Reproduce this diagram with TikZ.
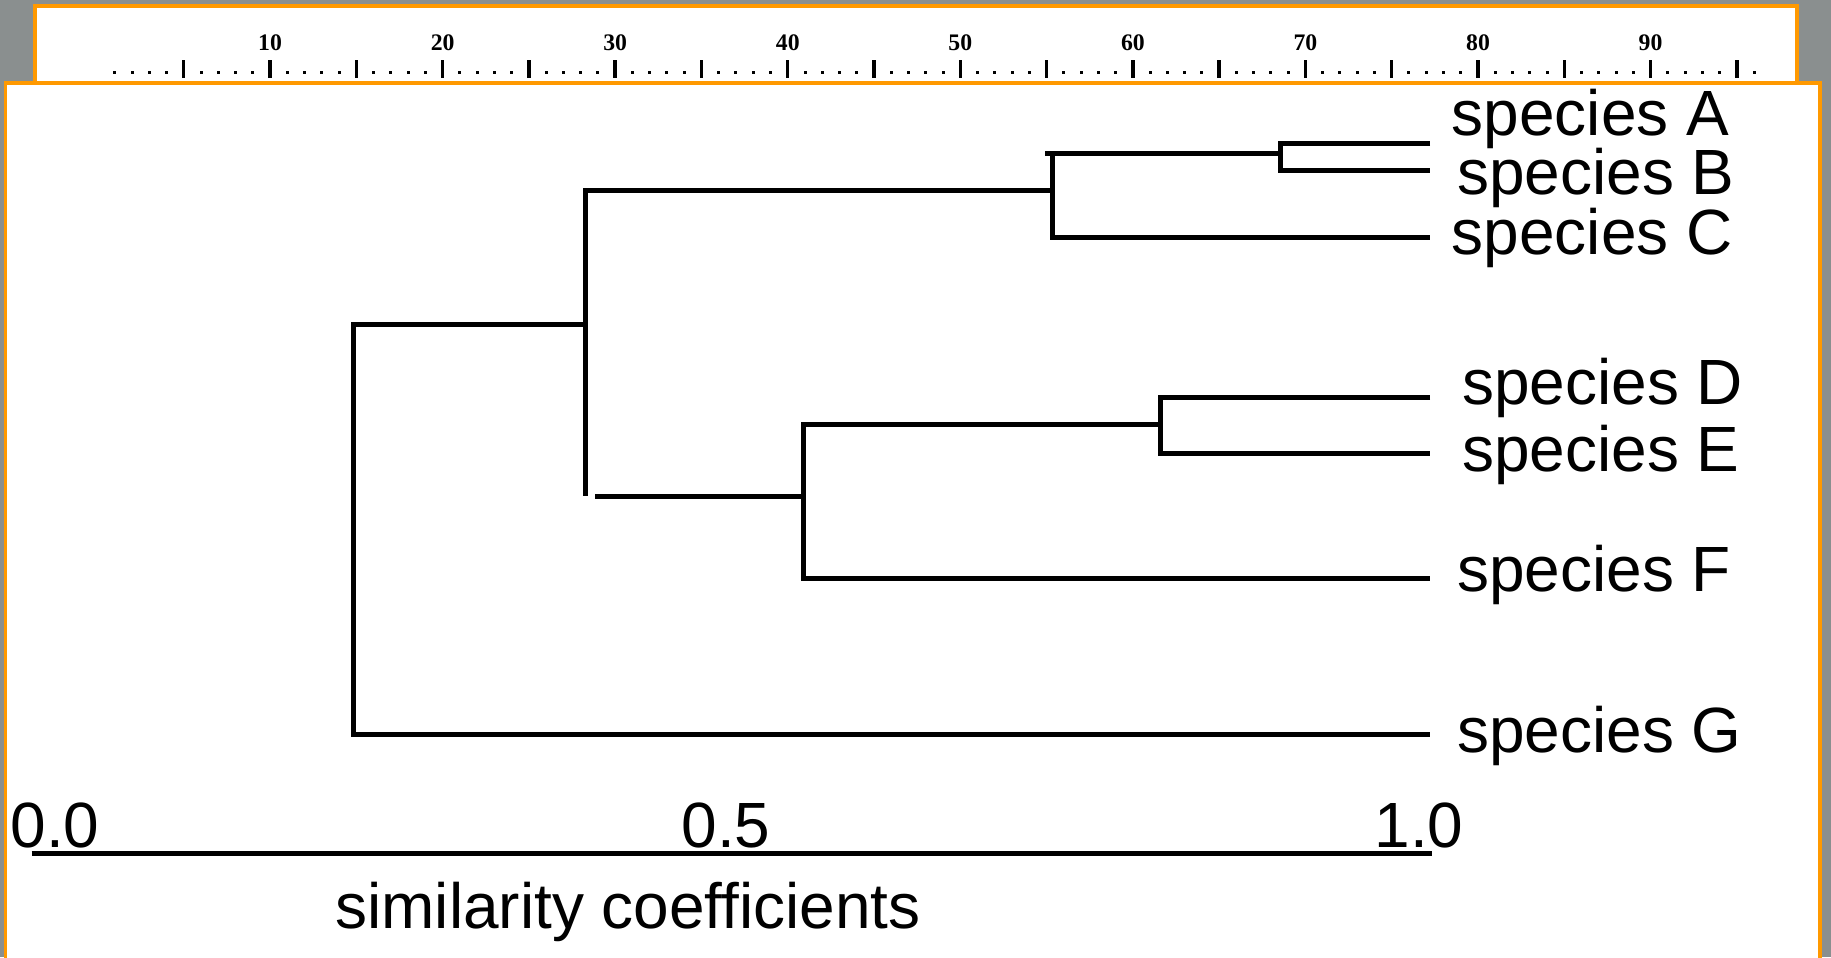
\documentclass[tikz,border=0pt]{standalone}
\usepackage{fontspec}
\setmainfont{Liberation Sans}
\newfontfamily\rulerfont{Liberation Serif}

\definecolor{frameorange}{RGB}{255,153,0}
\definecolor{backgray}{RGB}{138,143,143}

\tikzset{
  panel/.style={draw=frameorange,fill=white,line width=0.08cm},
  branch/.style={line width=0.1cm},
  species/.style={anchor=base west,inner sep=0pt,font=\fontsize{36.4}{40}\selectfont},
  scalelabel/.style={anchor=base,inner sep=0pt,font=\fontsize{36.4}{40}\selectfont},
  rulerlabel/.style={anchor=base,inner sep=0pt,font=\rulerfont\bfseries\fontsize{13.5}{15}\selectfont}
}

\begin{document}
\begin{tikzpicture}[x=0.02cm,y=-0.02cm]

  \useasboundingbox (0,0) rectangle (1831,957);
  \fill[backgray] (0,0) rectangle (1831,957);
  \draw[panel] (34.5,5.5) rectangle (1797,83);
  \draw[panel] (5.5,83) rectangle (1820,990);

  % ruler
  \foreach \i in {1,...,96}{
    \pgfmathtruncatemacro{\r}{mod(\i,5)}
    \ifnum\r=0
      \fill (97.5+17.256*\i-1.7,60) rectangle ++(3.4,18);
    \else
      \fill (97.5+17.256*\i-1.5,71) rectangle ++(3,2.6);
    \fi
  }
  \foreach \v in {10,20,...,90}
    \node[rulerlabel] (r\v) at (97.5+17.256*\v,50) {\v};

  % leaves
  \coordinate (a) at (1430,143.6);
  \coordinate (b) at (1430,170);
  \coordinate (c) at (1430,237);
  \coordinate (d) at (1430,397);
  \coordinate (e) at (1430,453);
  \coordinate (f) at (1430,578);
  \coordinate (g) at (1430,734.5);

  % joins
  \coordinate (ab) at (1280,153);
  \coordinate (abstub) at (1045,153);
  \coordinate (abc) at (1052,190);
  \coordinate (de) at (1160.7,424);
  \coordinate (def) at (803.4,496);
  \coordinate (defstub) at (595,496);
  \coordinate (abcdef) at (585,324.6);
  \coordinate (root) at (353.8,529.6);

  \draw[branch] (a) -| (ab) |- (b);
  \draw[branch] (ab) -| (abc) |- (c);
  \draw[branch] (abstub) -- (ab);
  \draw[branch] (d) -| (de) |- (e);
  \draw[branch] (de) -| (def) |- (f);
  \draw[branch] (abc) -| (abcdef) -- (abcdef |- def);
  \draw[branch] (defstub) -- (def);
  \draw[branch] (abcdef) -| (root) |- (g);

  \node[species] (la) at (1451.5,135) {species A};
  \node[species] (lb) at (1457,194.7) {species B};
  \node[species] (lc) at (1451.5,254.5) {species C};
  \node[species] (ld) at (1462,404) {species D};
  \node[species] (le) at (1462,471.5) {species E};
  \node[species] (lf) at (1457,591) {species F};
  \node[species] (lg) at (1457,752) {species G};

  % scale
  \coordinate (ax0) at (31.5,853.6);
  \coordinate (ax1) at (1431.6,853.6);
  \draw[line width=0.09cm] (ax0) -- (ax1);
  \node[scalelabel] (s0) at (55,847) {0.0};
  \node[scalelabel] (s5) at (726,847) {0.5};
  \node[scalelabel] (s1) at (1419,847) {1.0};
  \node[scalelabel] (title) at (628,928) {similarity coefficients};

\end{tikzpicture}
\end{document}
